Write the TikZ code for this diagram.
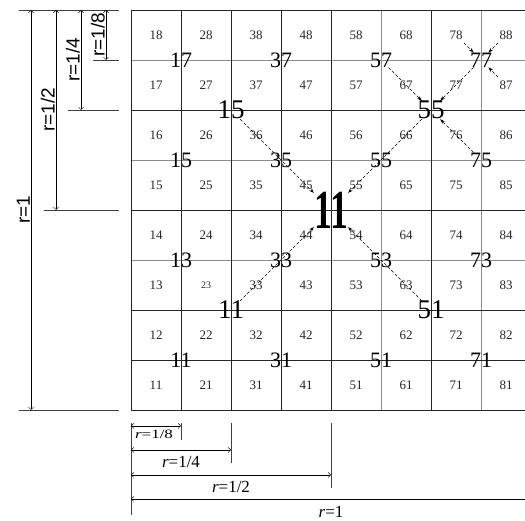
\documentclass[tikz,border=0pt]{standalone}
\usepackage{fontspec}
\setmainfont{Liberation Serif}
\newfontfamily\dimsans{Liberation Sans}
\usetikzlibrary{arrows.meta}

\begin{document}
\begin{tikzpicture}[x=1pt, y=1pt,
        gridthin/.style={draw=black!45, line width=0.6pt},
        gridthick/.style={draw=black!85, line width=0.8pt},
        cellnum/.style={text=black!85},
        quartnum/.style={inner sep=0pt, font=\fontsize{22}{22}\selectfont},
        halfnum/.style={inner sep=0pt, font=\fontsize{27}{27}\selectfont},
        rootnum/.style={inner sep=0pt, font=\fontsize{55}{55}\selectfont\bfseries},
        link/.style={densely dashed, line width=0.6pt, -{Stealth[length=5pt, width=3.5pt]}},
        dimline/.style={line width=0.5pt, {Straight Barb[length=2.5pt, width=5pt]}-{Straight Barb[length=2.5pt, width=5pt]}},
        extline/.style={draw=black!75, line width=0.6pt},
        dimtext/.style={inner sep=1pt, font=\fontsize{17}{17}\selectfont},
        sidetext/.style={inner sep=1pt, rotate=90, anchor=south, font=\dimsans\fontsize{19}{19}\selectfont}
    ]
    \clip (0,0) rectangle (525,521);
    \useasboundingbox (0,0) rectangle (525,521);

    % grid of 8 x 8 cells
    \foreach \k in {5,7}
        \draw[gridthin] ({131+50*\k},111) -- ({131+50*\k},511);
    \foreach \k in {3,5,7}
        \draw[gridthin] (131,{111+50*\k}) -- (531,{111+50*\k});
    \foreach \k in {0,1,2,3,4,6,8}
        \draw[gridthick] ({131+50*\k},111) -- ({131+50*\k},511);
    \foreach \k in {0,1,2,4,6,8}
        \draw[gridthick] (131,{111+50*\k}) -- (531,{111+50*\k});

    % cell numbers, r=1/8
    \foreach \i in {1,...,8}
        \foreach \j in {1,...,8}{
            \ifnum\i\j=23 \def\cellsize{10}\else\def\cellsize{13}\fi
            \node[cellnum, font=\fontsize{\cellsize}{\cellsize}\selectfont] (c\i\j) at ({106+50*\i},{86+50*\j}) {\i\j};
        }

    % r=1/4 blocks
    \foreach \k in {0,...,3}
        \foreach \m in {0,...,3}{
            \pgfmathtruncatemacro\qa{2*\k+1}
            \pgfmathtruncatemacro\qb{2*\m+1}
            \node[quartnum] (q\qa\qb) at ({181+100*\k},{161+100*\m}) {\qa\qb};
        }

    % r=1/2 blocks and root
    \node[halfnum] (h15) at (231,411) {15};
    \node[halfnum] (h55) at (431,411) {55};
    \node[halfnum] (h11) at (231,211) {11};
    \node[halfnum] (h51) at (431,211) {51};
    \node[rootnum] (root) at (331,311) {\scalebox{0.65}[1]{11}};

    % links to the parent block
    \foreach \s in {h15,h55,h11,h51}
        \draw[link] (\s) -- (root);
    \foreach \s in {q57,q77,q75}
        \draw[link] (\s) -- (h55);
    \foreach \s in {c78,c88,c87}
        \draw[link] (\s) -- (q77);

    % side dimensions
    \draw[extline] (19,511) -- (119,511);
    \draw[extline] (19,111) -- (119,111);
    \draw[extline] (44,311) -- (119,311);
    \draw[extline] (68,411) -- (119,411);
    \draw[extline] (93,461) -- (119,461);
    \draw[dimline] (31,511) -- node[sidetext] (s1) {r=1} (31,111);
    \draw[dimline] (56,511) -- node[sidetext] (s2) {r=1/2} (56,311);
    \draw[dimline] (81,511) -- node[sidetext] (s4) {r=1/4} (81,411);
    \draw[dimline] (106,511) -- node[sidetext] (s8) {r=1/8} (106,461);

    % bottom dimensions
    \draw[extline] (131,98) -- (131,6);
    \draw[extline] (181,98) -- (181,81);
    \draw[extline] (231,98) -- (231,58);
    \draw[extline] (331,98) -- (331,33);
    \draw[dimline] (131,95) -- (181,95);
    \node[dimtext, font=\fontsize{17}{17}\selectfont] (b8) at (154,87) {\scalebox{1}[0.75]{\textit{r}=1/8}};
    \draw[dimline] (131,71) -- (231,71);
    \node[dimtext] (b4) at (181,59) {\textit{r}=1/4};
    \draw[dimline] (131,46) -- (331,46);
    \node[dimtext] (b2) at (231,34) {\textit{r}=1/2};
    \draw[dimline] (131,22) -- (531,22);
    \node[dimtext] (b1) at (331,9) {\textit{r}=1};
\end{tikzpicture}
\end{document}
